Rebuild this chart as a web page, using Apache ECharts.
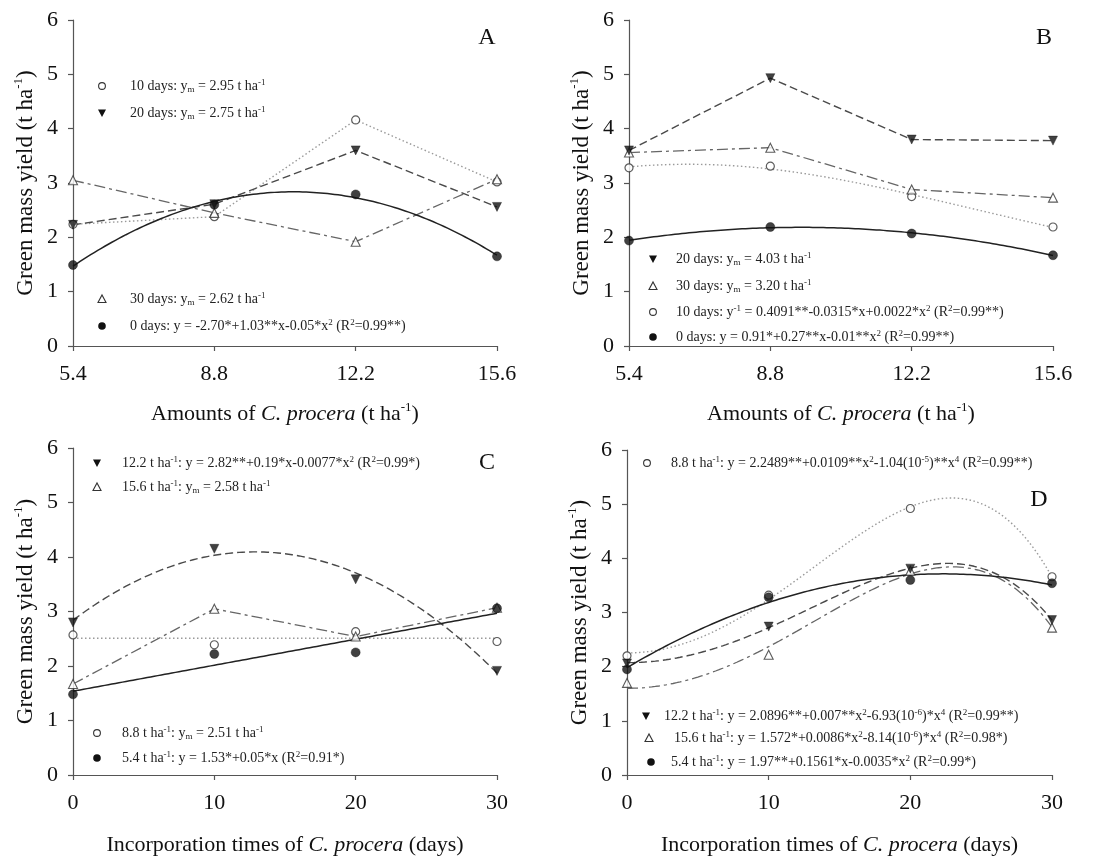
<!DOCTYPE html>
<html>
<head>
<meta charset="utf-8">
<script src="https://cdn.jsdelivr.net/npm/echarts@6/dist/echarts.min.js"></script>
<style>
  html, body { margin: 0; padding: 0; background: #fff; }
  #chart { width: 1116px; height: 859px; }
</style>
</head>
<body>
<div id="chart"></div>
<script>
// Amounts of C. procera (t/ha), x values of panels A and B
const amounts = [5.4, 8.8, 12.2, 15.6];
// Incorporation times (days), x values of panels C and D
const days = [0, 10, 20, 30];
const yTickMax = 6;

// Panel A: green mass yield by amount, one group per incorporation time
const a10 = [2.24, 2.38, 4.16, 3.02];
const a20 = [2.23, 2.61, 3.60, 2.56];
const a30 = [3.05, 2.45, 1.92, 3.07];
const a0  = [1.49, 2.60, 2.79, 1.65];

// Panel B
const b20 = [3.60, 4.93, 3.80, 3.78];
const b30 = [3.56, 3.65, 2.88, 2.73];
const b10 = [3.28, 3.31, 2.75, 2.19];
const b0  = [1.94, 2.19, 2.07, 1.67];

// Panel C: green mass yield by incorporation time, one group per amount
const c122 = [2.80, 4.15, 3.59, 1.91];
const c156 = [1.67, 3.05, 2.54, 3.07];
const c88  = [2.57, 2.39, 2.63, 2.45];
const c54  = [1.48, 2.22, 2.25, 3.06];

// Panel D
const d88  = [2.20, 3.32, 4.92, 3.66];
const d122 = [2.06, 2.74, 3.81, 2.86];
const d156 = [1.70, 2.22, 3.77, 2.72];
const d54  = [1.95, 3.28, 3.60, 3.54];

const FONT = 'Liberation Serif';

// ---------- regression helpers (least squares on the plotted points) ----------
const LIN  = [x => 1, x => x];
const QUAD = [x => 1, x => x, x => x * x];
const QUART_EVEN = [x => 1, x => x * x, x => x * x * x * x];

function lsq(xs, ys, basis) {
  const n = basis.length;
  const M = Array.from({ length: n }, () => new Array(n + 1).fill(0));
  xs.forEach((x, k) => {
    const f = basis.map(b => b(x));
    for (let i = 0; i < n; i++) {
      for (let j = 0; j < n; j++) M[i][j] += f[i] * f[j];
      M[i][n] += f[i] * ys[k];
    }
  });
  for (let i = 0; i < n; i++) {
    let p = i;
    for (let r = i + 1; r < n; r++) if (Math.abs(M[r][i]) > Math.abs(M[p][i])) p = r;
    [M[i], M[p]] = [M[p], M[i]];
    for (let r = 0; r < n; r++) {
      if (r === i) continue;
      const f = M[r][i] / M[i][i];
      for (let c = i; c <= n; c++) M[r][c] -= f * M[i][c];
    }
  }
  const coef = M.map((row, i) => row[n] / row[i]);
  return x => basis.reduce((s, b, i) => s + coef[i] * b(x), 0);
}

function sampleCurve(xs, fn) {
  const lo = xs[0], hi = xs[xs.length - 1], steps = 120;
  const out = [];
  for (let i = 0; i <= steps; i++) {
    const x = lo + (hi - lo) * i / steps;
    out.push([x, fn(x)]);
  }
  return out;
}
const pairs = (xs, ys) => xs.map((x, i) => [x, ys[i]]);
const mean = ys => ys.reduce((s, v) => s + v, 0) / ys.length;

// ---------- styles ----------
const MARK = {
  fc: { symbol: 'circle', symbolSize: 9, symbolRotate: 0, itemStyle: { color: '#111', borderColor: '#111', borderWidth: 0.5 } },
  oc: { symbol: 'circle', symbolSize: 8, symbolRotate: 0, itemStyle: { color: '#fff', borderColor: '#333', borderWidth: 1.2 } },
  dt: { symbol: 'triangle', symbolSize: 9, symbolRotate: 180, itemStyle: { color: '#111', borderColor: '#111', borderWidth: 0.5 } },
  ut: { symbol: 'triangle', symbolSize: 9, symbolRotate: 0, itemStyle: { color: '#fff', borderColor: '#333', borderWidth: 1.1 } }
};
const LINE = {
  solid:   { color: '#222', width: 1.5, type: 'solid' },
  dotted:  { color: '#9a9a9a', width: 1.4, type: [1.5, 2.5] },
  dashed:  { color: '#4a4a4a', width: 1.4, type: [8, 4] },
  dashdot: { color: '#666', width: 1.3, type: [11, 4, 3, 4] }
};

const series = [];
function addGroup(panel, name, xs, ys, mark, line, curve) {
  series.push({
    type: 'line', name: name + ' line', xAxisIndex: panel, yAxisIndex: panel,
    data: curve, showSymbol: false, silent: true, z: 2,
    lineStyle: LINE[line], animation: false
  });
  series.push(Object.assign({
    type: 'scatter', name: name, xAxisIndex: panel, yAxisIndex: panel,
    data: pairs(xs, ys), z: 5, animation: false
  }, MARK[mark]));
}

// Panel A (index 0)
addGroup(0, 'A 10 days', amounts, a10, 'oc', 'dotted', pairs(amounts, a10));
addGroup(0, 'A 30 days', amounts, a30, 'ut', 'dashdot', pairs(amounts, a30));
addGroup(0, 'A 20 days', amounts, a20, 'dt', 'dashed', pairs(amounts, a20));
addGroup(0, 'A 0 days', amounts, a0, 'fc', 'solid', sampleCurve(amounts, lsq(amounts, a0, QUAD)));

// Panel B (index 1)
const b10inv = lsq(amounts, b10.map(v => 1 / v), QUAD);
addGroup(1, 'B 10 days', amounts, b10, 'oc', 'dotted', sampleCurve(amounts, x => 1 / b10inv(x)));
addGroup(1, 'B 30 days', amounts, b30, 'ut', 'dashdot', pairs(amounts, b30));
addGroup(1, 'B 20 days', amounts, b20, 'dt', 'dashed', pairs(amounts, b20));
addGroup(1, 'B 0 days', amounts, b0, 'fc', 'solid', sampleCurve(amounts, lsq(amounts, b0, QUAD)));

// Panel C (index 2)
addGroup(2, 'C 8.8', days, c88, 'oc', 'dotted', [[days[0], mean(c88)], [days[3], mean(c88)]]);
addGroup(2, 'C 15.6', days, c156, 'ut', 'dashdot', pairs(days, c156));
addGroup(2, 'C 12.2', days, c122, 'dt', 'dashed', sampleCurve(days, lsq(days, c122, QUAD)));
addGroup(2, 'C 5.4', days, c54, 'fc', 'solid', sampleCurve(days, lsq(days, c54, LIN)));

// Panel D (index 3)
addGroup(3, 'D 8.8', days, d88, 'oc', 'dotted', sampleCurve(days, lsq(days, d88, QUART_EVEN)));
addGroup(3, 'D 15.6', days, d156, 'ut', 'dashdot', sampleCurve(days, lsq(days, d156, QUART_EVEN)));
addGroup(3, 'D 12.2', days, d122, 'dt', 'dashed', sampleCurve(days, lsq(days, d122, QUART_EVEN)));
addGroup(3, 'D 5.4', days, d54, 'fc', 'solid', sampleCurve(days, lsq(days, d54, QUAD)));

// ---------- axes ----------
const grids = [
  { left: 73,  top: 20,  width: 424, height: 326 },
  { left: 629, top: 20,  width: 424, height: 326 },
  { left: 73,  top: 448, width: 424, height: 328 },
  { left: 627, top: 450, width: 425, height: 327 }
];
const axisLineStyle = { lineStyle: { color: '#555', width: 1.2 } };
const tickStyle = { show: true, inside: false, length: 5, lineStyle: { color: '#555', width: 1.2 } };
const labelBase = { color: '#111', fontFamily: FONT, fontSize: 22 };
function nameStyle(size) {
  return {
    color: '#111', fontFamily: FONT, fontSize: size, lineHeight: size + 4,
    rich: {
      sup: { fontSize: 13, fontFamily: FONT, color: '#111', verticalAlign: 'top', lineHeight: 12 },
      i: { fontSize: size, fontFamily: FONT, color: '#111', fontStyle: 'italic', lineHeight: size + 4 }
    }
  };
}

const xAxes = [0, 1, 2, 3].map(i => {
  const byAmount = i < 2;
  const ax = {
    type: 'value', gridIndex: i,
    min: byAmount ? amounts[0] : days[0],
    max: byAmount ? amounts[3] : days[3],
    axisLine: axisLineStyle,
    axisTick: Object.assign({}, tickStyle),
    axisLabel: Object.assign({ margin: 17 }, labelBase),
    splitLine: { show: false },
    name: byAmount ? 'Amounts of {i|C. procera} (t ha{sup|-1})'
                   : 'Incorporation times of {i|C. procera} (days)',
    nameLocation: 'middle', nameGap: byAmount ? 55 : 57, nameTextStyle: nameStyle(22)
  };
  if (byAmount) {
    ax.axisTick.customValues = amounts;
    ax.axisLabel.customValues = amounts;
    ax.axisLabel.formatter = v => Number(v).toFixed(1);
  } else {
    ax.interval = 10;
  }
  return ax;
});
const yAxes = [0, 1, 2, 3].map(i => ({
  type: 'value', gridIndex: i, min: 0, max: yTickMax, interval: 1,
  axisLine: Object.assign({ show: true }, axisLineStyle),
  axisTick: tickStyle,
  axisLabel: Object.assign({ margin: 15 }, labelBase),
  splitLine: { show: false },
  name: 'Green mass yield (t ha{sup|-1})',
  nameLocation: 'middle', nameGap: 34, nameRotate: 90, nameTextStyle: nameStyle(23)
}));

// ---------- in-panel keys and panel letters ----------
const rich = {
  sup: { fontSize: 9, fontFamily: FONT, fill: '#222', verticalAlign: 'top', lineHeight: 9 },
  sub: { fontSize: 9, fontFamily: FONT, fill: '#222', verticalAlign: 'bottom', lineHeight: 8 }
};
function keyMarker(kind, x, y) {
  const s = 4;
  if (kind === 'fc') return { type: 'circle', shape: { cx: x, cy: y, r: 3.8 }, style: { fill: '#111' } };
  if (kind === 'oc') return { type: 'circle', shape: { cx: x, cy: y, r: 3.4 }, style: { fill: '#fff', stroke: '#333', lineWidth: 1.1 } };
  if (kind === 'dt') return { type: 'polygon', shape: { points: [[x - s, y - s + 0.5], [x + s, y - s + 0.5], [x, y + s]] }, style: { fill: '#111' } };
  return { type: 'polygon', shape: { points: [[x - s, y + s - 0.5], [x + s, y + s - 0.5], [x, y - s]] }, style: { fill: '#fff', stroke: '#333', lineWidth: 1.1 } };
}
function keyText(text, x, y) {
  return {
    type: 'text', x: x, y: y,
    style: { text: text, fontFamily: FONT, fontSize: 14, lineHeight: 16, fill: '#222', verticalAlign: 'middle', rich: rich }
  };
}
const keys = [
  // A
  ['oc', 102, 86, 130, '10 days: y{sub|m} = 2.95 t ha{sup|-1}'],
  ['dt', 102, 113, 130, '20 days: y{sub|m} = 2.75 t ha{sup|-1}'],
  ['ut', 102, 299, 130, '30 days: y{sub|m} = 2.62 t ha{sup|-1}'],
  ['fc', 102, 326, 130, '0 days: y = -2.70*+1.03**x-0.05*x{sup|2} (R{sup|2}=0.99**)'],
  // B
  ['dt', 653, 259, 676, '20 days: y{sub|m} = 4.03 t ha{sup|-1}'],
  ['ut', 653, 286, 676, '30 days: y{sub|m} = 3.20 t ha{sup|-1}'],
  ['oc', 653, 312, 676, '10 days: y{sup|-1} = 0.4091**-0.0315*x+0.0022*x{sup|2} (R{sup|2}=0.99**)'],
  ['fc', 653, 337, 676, '0 days: y = 0.91*+0.27**x-0.01**x{sup|2} (R{sup|2}=0.99**)'],
  // C
  ['dt', 97, 463, 122, '12.2 t ha{sup|-1}: y = 2.82**+0.19*x-0.0077*x{sup|2} (R{sup|2}=0.99*)'],
  ['ut', 97, 487, 122, '15.6 t ha{sup|-1}: y{sub|m} = 2.58 t ha{sup|-1}'],
  ['oc', 97, 733, 122, '8.8 t ha{sup|-1}: y{sub|m} = 2.51 t ha{sup|-1}'],
  ['fc', 97, 758, 122, '5.4 t ha{sup|-1}: y = 1.53*+0.05*x (R{sup|2}=0.91*)'],
  // D
  ['oc', 647, 463, 671, '8.8 t ha{sup|-1}: y = 2.2489**+0.0109**x{sup|2}-1.04(10{sup|-5})**x{sup|4} (R{sup|2}=0.99**)'],
  ['dt', 646, 716, 664, '12.2 t ha{sup|-1}: y = 2.0896**+0.007**x{sup|2}-6.93(10{sup|-6})*x{sup|4} (R{sup|2}=0.99**)'],
  ['ut', 649, 738, 674, '15.6 t ha{sup|-1}: y = 1.572*+0.0086*x{sup|2}-8.14(10{sup|-6})*x{sup|4} (R{sup|2}=0.98*)'],
  ['fc', 651, 762, 671, '5.4 t ha{sup|-1}: y = 1.97**+0.1561*x-0.0035*x{sup|2} (R{sup|2}=0.99*)']
];
const graphics = [];
keys.forEach(([kind, mx, my, tx, text]) => {
  graphics.push(keyMarker(kind, mx, my));
  graphics.push(keyText(text, tx, my));
});
[['A', 487, 38], ['B', 1044, 38], ['C', 487, 463], ['D', 1039, 500]].forEach(([t, x, y]) => {
  graphics.push({
    type: 'text', x: x, y: y,
    style: { text: t, fontFamily: FONT, fontSize: 24, fill: '#111', align: 'center', verticalAlign: 'middle' }
  });
});

const chart = echarts.init(document.getElementById('chart'), null, { renderer: 'canvas' });
chart.setOption({
  animation: false,
  backgroundColor: '#fff',
  grid: grids,
  xAxis: xAxes,
  yAxis: yAxes,
  series: series,
  graphic: graphics
});
</script>
</body>
</html>
